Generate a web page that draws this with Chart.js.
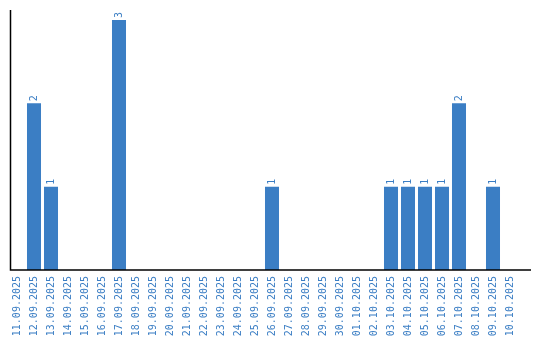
<!DOCTYPE html>
<html>
<head>
<meta charset="utf-8">
<script src="https://cdn.jsdelivr.net/npm/chart.js@4"></script>
<style>
  html, body { margin: 0; padding: 0; background: #fff; }
  #wrap { width: 540px; height: 340px; }
</style>
</head>
<body>
<div id="wrap"><canvas id="barChart"></canvas></div>
<script>
const labels = [
  '11.09.2025', '12.09.2025', '13.09.2025', '14.09.2025', '15.09.2025',
  '16.09.2025', '17.09.2025', '18.09.2025', '19.09.2025', '20.09.2025',
  '21.09.2025', '22.09.2025', '23.09.2025', '24.09.2025', '25.09.2025',
  '26.09.2025', '27.09.2025', '28.09.2025', '29.09.2025', '30.09.2025',
  '01.10.2025', '02.10.2025', '03.10.2025', '04.10.2025', '05.10.2025',
  '06.10.2025', '07.10.2025', '08.10.2025', '09.10.2025', '10.10.2025'
];
const counts = [
  0, 2, 1, 0, 0, 0, 3, 0, 0, 0,
  0, 0, 0, 0, 0, 1, 0, 0, 0, 0,
  0, 0, 1, 1, 1, 1, 2, 0, 1, 0
];

const blue = '#3b7ec4';
const font = '"DejaVu Sans Mono", monospace';

// axis lines + value labels above bars
const decorations = {
  id: 'decorations',
  afterDatasetsDraw(chart) {
    const { ctx, chartArea } = chart;
    ctx.save();
    ctx.strokeStyle = '#000';
    ctx.lineWidth = 1.5;
    ctx.beginPath();
    ctx.moveTo(10.5, chartArea.top);
    ctx.lineTo(10.5, chartArea.bottom);
    ctx.lineTo(531, chartArea.bottom);
    ctx.stroke();

    ctx.fillStyle = blue;
    ctx.font = '10px ' + font;
    ctx.textAlign = 'left';
    ctx.textBaseline = 'middle';
    chart.getDatasetMeta(0).data.forEach((bar, i) => {
      if (!counts[i]) return;
      ctx.save();
      ctx.translate(bar.x + 0.5, bar.y - 2);
      ctx.rotate(-Math.PI / 2);
      ctx.fillText(String(counts[i]), 0, 0);
      ctx.restore();
    });
    ctx.restore();
  }
};

const chart = new Chart(document.getElementById('barChart'), {
  type: 'bar',
  data: {
    labels: labels,
    datasets: [{
      data: counts,
      backgroundColor: blue,
      borderWidth: 0,
      barPercentage: 0.824,
      categoryPercentage: 1
    }]
  },
  options: {
    responsive: true,
    maintainAspectRatio: false,
    animation: false,
    layout: { padding: { left: 8.5, right: 21.5, top: 10, bottom: 0 } },
    plugins: {
      legend: { display: false },
      tooltip: { enabled: false }
    },
    scales: {
      x: {
        grid: { display: false },
        border: { display: false },
        ticks: {
          color: blue,
          font: { family: font, size: 10 },
          minRotation: 90,
          maxRotation: 90,
          autoSkip: false,
          padding: -2
        },
        afterFit(scale) { scale.height = 70; }
      },
      y: {
        min: 0,
        max: 3.12,
        display: true,
        grid: { display: false },
        border: { display: false },
        ticks: { display: false },
        afterFit(scale) { scale.width = 0; }
      }
    }
  },
  plugins: [decorations]
});
</script>
</body>
</html>
